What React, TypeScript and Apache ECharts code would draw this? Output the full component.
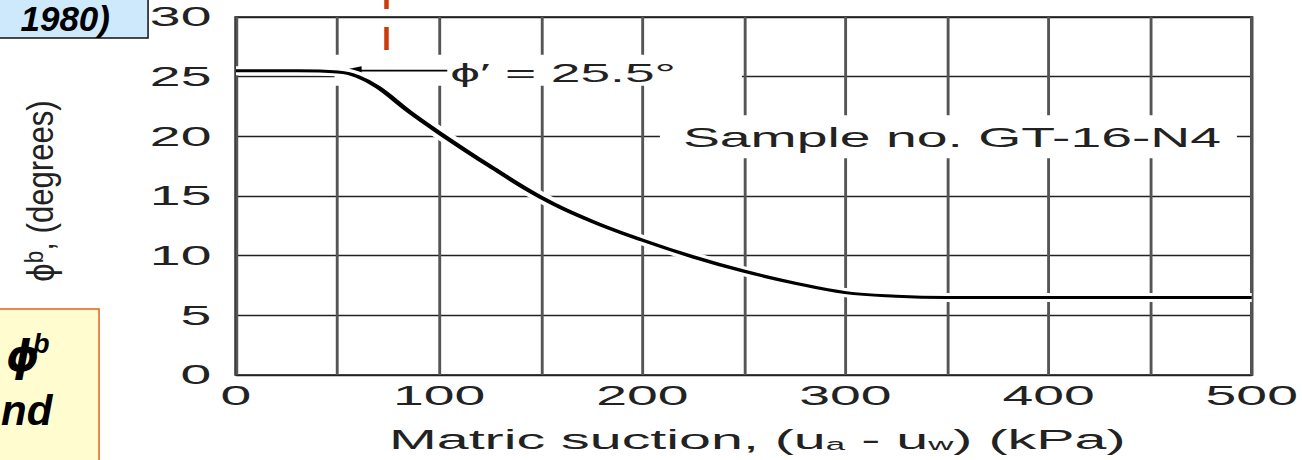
import React, { useEffect, useRef } from "react";
import * as echarts from "echarts";

// Matric suction (kPa) and the friction angle with respect to suction, ϕb (degrees)
const suction = [0, 30, 50, 60, 70, 85, 100, 125, 150, 175, 200, 225, 250, 275, 300, 325, 350, 400, 450, 500];
const phiB = [25.5, 25.5, 25.4, 25.0, 24.1, 22.1, 20.3, 17.5, 14.9, 12.9, 11.3, 9.9, 8.7, 7.7, 6.9, 6.6, 6.5, 6.5, 6.5, 6.5];

const xTickLabels = [0, 100, 200, 300, 400, 500];
const yTickLabels = [0, 5, 10, 15, 20, 25, 30];

// Effective friction angle ϕ′ marked by the arrow
const frictionAngle = 25.5;
const arrowFrom = 104;
const arrowTo = 51;
const sampleName = "Sample no. GT-16-N4";
const sampleAt = [220, 20];
const markerSuction = 74;

// The figure is a horizontally widened plot, so the chart is drawn narrow and stretched.
const S = 2.05;
const W = 1302 / S;
const FONT = "'Liberation Sans', Arial, Helvetica, sans-serif";

export default function App() {
  const ref = useRef<HTMLDivElement>(null);

  useEffect(() => {
    const el = ref.current;
    if (!el) return;
    const chart = echarts.init(el, null, { renderer: "svg" });
    const curve = suction.map((x, i) => [x, phiB[i]]);

    chart.setOption({
      animation: false,
      backgroundColor: "#ffffff",
      grid: {
        left: 236 / S,
        right: W - 1252 / S,
        top: 17,
        bottom: 85,
        show: true,
        borderColor: "#111",
        borderWidth: 1.6,
        backgroundColor: "transparent",
        outerBoundsMode: "none",
      },
      xAxis: {
        type: "value",
        min: 0,
        max: 500,
        interval: 50,
        axisLine: { show: false },
        axisTick: { show: false },
        splitLine: { show: true, lineStyle: { color: "#555", width: 1.4 } },
        axisLabel: {
          formatter: (v: number) => (xTickLabels.includes(v) ? String(v) : ""),
          fontSize: 27,
          color: "#222",
          fontFamily: FONT,
          margin: 7,
          showMinLabel: true,
          showMaxLabel: true,
        },
        name: "Matric suction, (u{sub|a} - u{sub|w}) (kPa)",
        nameLocation: "middle",
        nameGap: 50,
        nameTextStyle: {
          fontSize: 28,
          color: "#222",
          fontFamily: FONT,
          padding: [0, 0, 0, 13],
          rich: {
            sub: { fontSize: 17, color: "#222", fontFamily: FONT, verticalAlign: "bottom" },
          },
        },
      },
      yAxis: {
        type: "value",
        min: 0,
        max: 30,
        interval: 5,
        axisLine: { show: false },
        axisTick: { show: false },
        splitLine: { show: true, lineStyle: { color: "#222", width: 1.3 } },
        axisLabel: {
          formatter: (v: number) => (yTickLabels.includes(v) ? String(v) : ""),
          fontSize: 27,
          color: "#222",
          fontFamily: FONT,
          margin: 12,
          padding: [7, 0, 0, 0],
        },
      },
      series: [
        {
          type: "line",
          data: curve,
          smooth: 0.4,
          symbol: "none",
          silent: true,
          lineStyle: { color: "#ffffff", width: 9 },
        },
        {
          type: "line",
          data: curve,
          smooth: 0.4,
          symbol: "none",
          lineStyle: { color: "#000", width: 3 },
        },
      ],
    });

    const px = (x: number, y: number) =>
      chart.convertToPixel({ gridIndex: 0 }, [x, y]) as number[];

    const [a0x, ay] = px(arrowFrom, frictionAngle);
    const [a1x] = px(arrowTo, frictionAngle);
    const [bandEnd] = px(250, frictionAngle);
    const [sx, sy] = px(sampleAt[0], sampleAt[1]);
    const [mx] = px(markerSuction, 0);
    const [, plotTop] = px(0, 30);
    const [, plotBottom] = px(0, 0);
    const headLen = 22 / S;

    chart.setOption({
      graphic: [
        // white band behind the ϕ′ arrow and label
        {
          type: "rect",
          z: 1,
          shape: { x: a1x - 5 / S, y: ay - 16, width: bandEnd - 2 / S - (a1x - 5 / S), height: 31 },
          style: { fill: "#ffffff" },
        },
        {
          type: "line",
          z: 1,
          shape: { x1: a0x, y1: ay, x2: a1x + headLen - 1, y2: ay },
          style: { stroke: "#000", lineWidth: 1.8 },
        },
        {
          type: "polygon",
          z: 1,
          shape: {
            points: [
              [a1x, ay],
              [a1x + headLen, ay - 4.5],
              [a1x + headLen, ay + 4.5],
            ],
          },
          style: { fill: "#000" },
        },
        {
          type: "text",
          z: 1,
          x: a0x + 3 / S,
          y: ay + 2,
          style: {
            text: `ϕ′ = ${frictionAngle}°`,
            fontSize: 26,
            fontFamily: FONT,
            fill: "#222",
            align: "left",
            verticalAlign: "middle",
          },
        },
        // sample label with its white box
        {
          type: "rect",
          z: 1,
          shape: { x: sx - 23 / S, y: sy - 21, width: (1237 - 660) / S, height: 43 },
          style: { fill: "#ffffff" },
        },
        {
          type: "text",
          z: 1,
          x: sx,
          y: sy + 1,
          style: {
            text: sampleName,
            fontSize: 27,
            fontFamily: FONT,
            fill: "#222",
            align: "left",
            verticalAlign: "middle",
          },
        },
        // y-axis title
        {
          type: "text",
          z: 1,
          x: 40 / S,
          y: (plotTop + plotBottom) / 2 - 5,
          rotation: Math.PI / 2,
          scaleX: 1.73,
          style: {
            text: "{phi|ϕ}{sup|b}, (degrees)",
            fontSize: 18,
            fontFamily: FONT,
            fill: "#222",
            align: "center",
            verticalAlign: "middle",
            rich: {
              phi: { fontSize: 19, fontFamily: FONT, fill: "#222" },
              sup: { fontSize: 13, fontFamily: FONT, fill: "#222", verticalAlign: "top" },
            },
          },
        },
        // slide overlays, drawn unstretched
        {
          type: "group",
          z: 10,
          x: 0,
          y: 0,
          scaleX: 1 / S,
          children: [
            {
              type: "line",
              shape: { x1: mx * S, y1: -14, x2: mx * S, y2: 50 },
              style: { stroke: "#cc3a0c", lineWidth: 4.5, lineDash: [23, 18] },
            },
            {
              type: "rect",
              shape: { x: -3, y: -3, width: 151, height: 41 },
              style: { fill: "#cde9fb", stroke: "#111", lineWidth: 1.5 },
            },
            {
              type: "text",
              x: 110,
              y: 1,
              style: {
                text: "1980)",
                fontSize: 35,
                lineHeight: 35,
                fontWeight: "bold",
                fontStyle: "italic",
                fontFamily: FONT,
                fill: "#000",
                align: "right",
                verticalAlign: "top",
              },
            },
            {
              type: "rect",
              shape: { x: -3, y: 309, width: 102, height: 160 },
              style: { fill: "#fffdd0", stroke: "#e2601e", lineWidth: 1.5 },
            },
            {
              type: "text",
              x: 6,
              y: 357,
              style: {
                text: "ϕ",
                fontSize: 42,
                fontWeight: "bold",
                fontStyle: "italic",
                fontFamily: "'DejaVu Sans', sans-serif",
                fill: "#000",
                align: "left",
                verticalAlign: "middle",
              },
            },
            {
              type: "text",
              x: 33,
              y: 344,
              style: {
                text: "b",
                fontSize: 27,
                fontWeight: "bold",
                fontStyle: "italic",
                fontFamily: FONT,
                fill: "#000",
                align: "left",
                verticalAlign: "middle",
              },
            },
            {
              type: "text",
              x: 1,
              y: 411,
              style: {
                text: "nd",
                fontSize: 42,
                fontWeight: "bold",
                fontStyle: "italic",
                fontFamily: FONT,
                fill: "#000",
                align: "left",
                verticalAlign: "middle",
              },
            },
          ],
        },
      ],
    });

    return () => chart.dispose();
  }, []);

  return (
    <div
      style={{
        position: "fixed",
        left: 0,
        top: 0,
        width: 1302,
        height: 460,
        overflow: "hidden",
        background: "#ffffff",
      }}
    >
      <div
        ref={ref}
        style={{ width: W, height: 460, transform: `scaleX(${S})`, transformOrigin: "0 0" }}
      />
    </div>
  );
}
